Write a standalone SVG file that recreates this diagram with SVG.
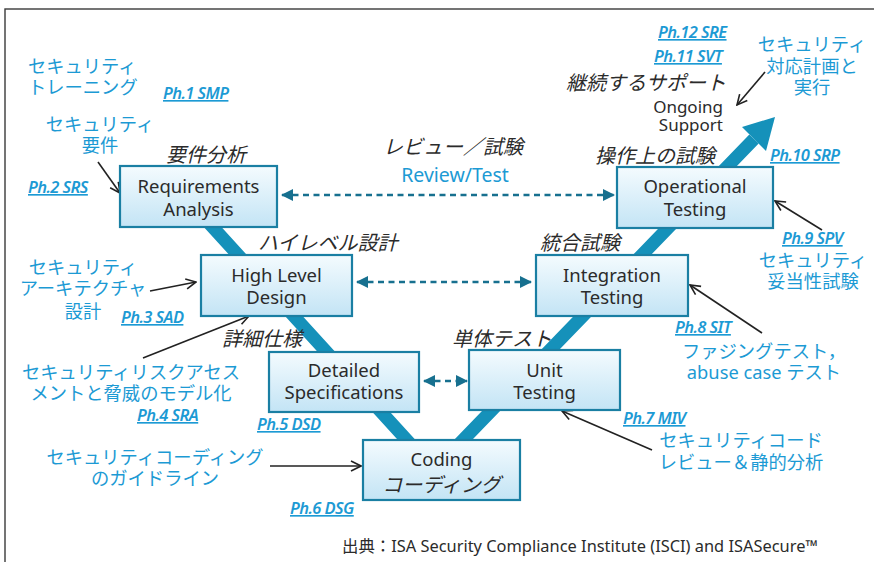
<svg xmlns="http://www.w3.org/2000/svg" width="874" height="562" viewBox="0 0 874 562">
  <defs>
    <linearGradient id="boxFill" x1="0" y1="0" x2="0" y2="1">
      <stop offset="0" stop-color="#f4fbfe"/>
      <stop offset="1" stop-color="#c3e4f5"/>
    </linearGradient>
    <marker id="dashHead" viewBox="0 0 12 12" refX="11" refY="6" markerWidth="12" markerHeight="12" markerUnits="userSpaceOnUse" orient="auto-start-reverse">
      <path d="M0,0 L12,6 L0,12 Z" fill="#17708f"/>
    </marker>
    <marker id="openHead" viewBox="0 0 12 12" refX="11" refY="6" markerWidth="12" markerHeight="12" markerUnits="userSpaceOnUse" orient="auto">
      <path d="M1,1 L11,6 L1,11" fill="none" stroke="#222" stroke-width="1.6"/>
    </marker>
    <style>
      .frame { fill: none; stroke: #3a3a3a; stroke-width: 1.4; }
      .band { fill: none; stroke: #1591ba; stroke-width: 13; stroke-linejoin: miter; }
      .box { fill: url(#boxFill); stroke: #1a7fa3; stroke-width: 2.2; }
      .boxText { font-family: "Noto Sans", "Noto Sans CJK JP", sans-serif; font-size: 18.5px; fill: #2b2b2b; text-anchor: middle; }
      .stage { font-family: "Noto Sans CJK JP", sans-serif; font-size: 20px; font-style: italic; fill: #2b2b2b; }
      .sec { font-family: "Noto Sans", "Noto Sans CJK JP", sans-serif; font-size: 18.3px; fill: #1c9ad4; }
      .mid { text-anchor: middle; }
      .ph { font-family: "Noto Sans", sans-serif; font-size: 16.5px; font-style: italic; font-weight: 600; letter-spacing: -0.6px; fill: #1c9ad4; text-decoration: underline; }
      .dash { fill: none; stroke: #17708f; stroke-width: 2.6; stroke-dasharray: 6 4.5; }
      .ptr { fill: none; stroke: #222; stroke-width: 1.6; }
      .note { font-family: "Noto Sans", "Noto Sans CJK JP", sans-serif; font-size: 16.4px; fill: #2b2b2b; }
      .support { font-family: "Noto Sans", sans-serif; font-size: 17px; fill: #2b2b2b; text-anchor: end; }
    </style>
  </defs>

  <!-- outer frame (top and left edges visible) -->
  <rect class="frame" x="5" y="9" width="900" height="600"/>

  <!-- V-model band with arrow to ongoing support -->
  <g id="v-band">
    <polyline class="band" points="188,200 434,470 754,139"/>
    <polygon points="775,117 742,127 766,151" fill="#1591ba"/>
  </g>

  <!-- connectors -->
  <g id="connectors">
    <line class="dash" x1="282" y1="195" x2="614" y2="195" marker-start="url(#dashHead)" marker-end="url(#dashHead)"/>
    <line class="dash" x1="357" y1="282" x2="531" y2="282" marker-start="url(#dashHead)" marker-end="url(#dashHead)"/>
    <line class="dash" x1="424" y1="381" x2="467" y2="381" marker-start="url(#dashHead)" marker-end="url(#dashHead)"/>

    <line class="ptr" x1="98" y1="162" x2="120" y2="193" marker-end="url(#openHead)"/>
    <line class="ptr" x1="150" y1="291" x2="196" y2="282" marker-end="url(#openHead)"/>
    <line class="ptr" x1="143" y1="358" x2="249" y2="316" marker-end="url(#openHead)"/>
    <line class="ptr" x1="270" y1="466" x2="361" y2="466" marker-end="url(#openHead)"/>
    <line class="ptr" x1="652" y1="450" x2="562" y2="411" marker-end="url(#openHead)"/>
    <line class="ptr" x1="762" y1="333" x2="690" y2="285" marker-end="url(#openHead)"/>
    <line class="ptr" x1="822" y1="230" x2="775" y2="201" marker-end="url(#openHead)"/>
    <line class="ptr" x1="765" y1="72" x2="737" y2="105" marker-end="url(#openHead)"/>
  </g>

  <!-- process stages -->
  <g id="requirements-analysis">
    <rect class="box" x="120" y="166" width="157" height="61"/>
    <text class="boxText" x="198.5" y="193">Requirements</text>
    <text class="boxText" x="198.5" y="216">Analysis</text>
    <text class="stage" x="166" y="162">要件分析</text>
  </g>
  <g id="high-level-design">
    <rect class="box" x="201" y="255" width="151" height="61"/>
    <text class="boxText" x="276.5" y="282">High Level</text>
    <text class="boxText" x="276.5" y="304">Design</text>
    <text class="stage" x="258" y="250">ハイレベル設計</text>
  </g>
  <g id="detailed-specifications">
    <rect class="box" x="269" y="352" width="150" height="60"/>
    <text class="boxText" x="344" y="377">Detailed</text>
    <text class="boxText" x="344" y="399">Specifications</text>
    <text class="stage" x="222" y="346">詳細仕様</text>
  </g>
  <g id="coding">
    <rect class="box" x="363" y="440" width="157" height="60"/>
    <text class="boxText" x="441.5" y="466">Coding</text>
    <text class="stage mid" x="441.5" y="492">コーディング</text>
  </g>
  <g id="unit-testing">
    <rect class="box" x="469" y="350" width="151" height="60"/>
    <text class="boxText" x="544.5" y="377">Unit</text>
    <text class="boxText" x="544.5" y="399">Testing</text>
    <text class="stage" x="452" y="346">単体テスト</text>
  </g>
  <g id="integration-testing">
    <rect class="box" x="536" y="255" width="152" height="61"/>
    <text class="boxText" x="612" y="282">Integration</text>
    <text class="boxText" x="612" y="304">Testing</text>
    <text class="stage" x="540" y="250">統合試験</text>
  </g>
  <g id="operational-testing">
    <rect class="box" x="617" y="167" width="156" height="61"/>
    <text class="boxText" x="695" y="193">Operational</text>
    <text class="boxText" x="695" y="216">Testing</text>
    <text class="stage" x="595" y="163">操作上の試験</text>
  </g>
  <g id="ongoing-support">
    <text class="stage" x="566" y="90">継続するサポート</text>
    <text class="support" x="723" y="113">Ongoing</text>
    <text class="support" x="723" y="131">Support</text>
  </g>
  <g id="review-test">
    <text class="stage" x="383" y="154">レビュー／試験</text>
    <text class="sec mid" x="455" y="182" style="font-size:19.5px">Review/Test</text>
  </g>

  <!-- security practices, left side -->
  <g id="ph1-smp">
    <text class="sec" x="28" y="73">セキュリティ</text>
    <text class="sec" x="28" y="94">トレーニング</text>
    <text class="ph" x="163" y="99">Ph.1 SMP</text>
  </g>
  <g id="ph2-srs">
    <text class="sec mid" x="100" y="131">セキュリティ</text>
    <text class="sec mid" x="100" y="152">要件</text>
    <text class="ph" x="28" y="193">Ph.2 SRS</text>
  </g>
  <g id="ph3-sad">
    <text class="sec mid" x="83" y="274">セキュリティ</text>
    <text class="sec mid" x="83" y="295">アーキテクチャ</text>
    <text class="sec mid" x="83" y="318">設計</text>
    <text class="ph" x="121" y="323">Ph.3 SAD</text>
  </g>
  <g id="ph4-sra">
    <text class="sec mid" x="131" y="379">セキュリティリスクアセス</text>
    <text class="sec mid" x="131" y="400">メントと脅威のモデル化</text>
    <text class="ph" x="137" y="421">Ph.4 SRA</text>
  </g>
  <g id="ph5-dsd">
    <text class="ph" x="257" y="430">Ph.5 DSD</text>
  </g>
  <g id="ph6-dsg">
    <text class="sec mid" x="155" y="464">セキュリティコーディング</text>
    <text class="sec mid" x="155" y="485">のガイドライン</text>
    <text class="ph" x="290" y="514">Ph.6 DSG</text>
  </g>

  <!-- security practices, right side -->
  <g id="ph7-miv">
    <text class="ph" x="623" y="424">Ph.7 MIV</text>
    <text class="sec mid" x="741" y="447">セキュリティコード</text>
    <text class="sec mid" x="741" y="469">レビュー＆静的分析</text>
  </g>
  <g id="ph8-sit">
    <text class="ph" x="675" y="333">Ph.8 SIT</text>
    <text class="sec mid" x="764" y="358">ファジングテスト，</text>
    <text class="sec mid" x="764" y="379">abuse case テスト</text>
  </g>
  <g id="ph9-spv">
    <text class="ph" x="782" y="244">Ph.9 SPV</text>
    <text class="sec mid" x="813" y="267">セキュリティ</text>
    <text class="sec mid" x="813" y="288">妥当性試験</text>
  </g>
  <g id="ph10-srp">
    <text class="ph" x="770" y="161">Ph.10 SRP</text>
  </g>
  <g id="ph11-svt">
    <text class="ph" x="654" y="62">Ph.11 SVT</text>
  </g>
  <g id="ph12-sre">
    <text class="ph" x="658" y="38">Ph.12 SRE</text>
    <text class="sec mid" x="812" y="51">セキュリティ</text>
    <text class="sec mid" x="812" y="73">対応計画と</text>
    <text class="sec mid" x="812" y="94">実行</text>
  </g>

  <!-- source -->
  <text class="note" x="342" y="552">出典：ISA Security Compliance Institute (ISCI) and ISASecure™</text>
</svg>
